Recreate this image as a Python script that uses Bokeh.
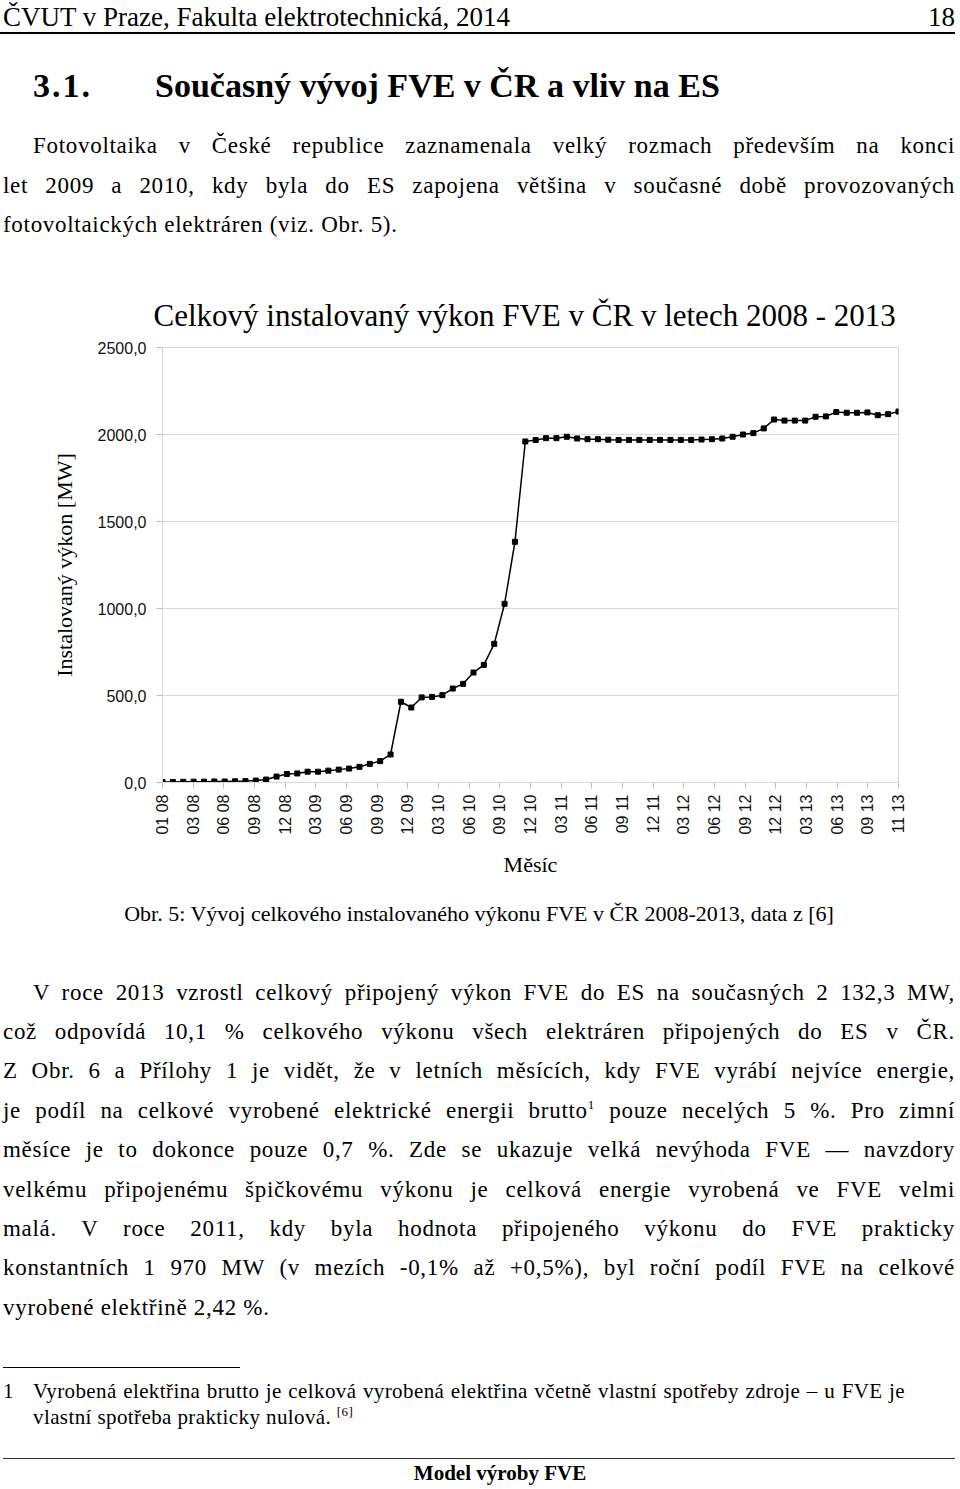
import math
from bokeh.plotting import figure
from bokeh.models import Range1d, FixedTicker, CustomJSTickFormatter, Div
from bokeh.layouts import column
from bokeh.embed import file_html
from bokeh.resources import INLINE

# ---------------- data ----------------
month_index = list(range(72))
installed_mw = [
    3, 3, 4, 5, 5, 6, 6, 7, 8, 11, 17, 34,
    49, 52, 62, 62, 68, 74, 80, 90, 107, 123, 161, 464,
    431, 489, 492, 502, 540, 567, 632, 676, 797, 1027, 1383, 1960,
    1968, 1979, 1979, 1987, 1977, 1973, 1973, 1970, 1968, 1969, 1969, 1969,
    1969, 1969, 1969, 1969, 1971, 1973, 1977, 1987, 2000, 2008, 2035, 2086,
    2080, 2080, 2080, 2102, 2104, 2129, 2125, 2125, 2127, 2111, 2117, 2132,
]
x_tick_labels = ["01 08", "03 08", "06 08", "09 08", "12 08", "03 09", "06 09", "09 09", "12 09",
                 "03 10", "06 10", "09 10", "12 10", "03 11", "06 11", "09 11", "12 11",
                 "03 12", "06 12", "09 12", "12 12", "03 13", "06 13", "09 13", "11 13"]
y_ticks = [0, 500, 1000, 1500, 2000, 2500]

chart_title = "Celkový instalovaný výkon FVE v ČR v letech 2008 - 2013"
y_label = "Instalovaný výkon [MW]"
x_label = "Měsíc"

# ---------------- page geometry ----------------
W = 960
TOP_H = 280
CHART_H = 610
BOT_H = 595
TOP_ORIGIN = 0
BOT_ORIGIN = TOP_H + CHART_H
SERIF = "Liberation Serif"


def line_html(text, left, cy, origin, width=None, size=23, weight="normal",
              align="left", lh=None, ls=0.0, family=SERIF):
    lh = lh or round(size * 1.2)
    top = max(cy - origin - lh / 2, 0)
    style = (f"position:absolute;left:{left}px;top:{top}px;font-family:'{family}';"
             f"font-size:{size}px;font-weight:{weight};line-height:{lh}px;"
             f"letter-spacing:{ls}px;color:#000;margin:0;padding:0;")
    if width:
        style += f"width:{width}px;"
    if align == "justify":
        style += "text-align:justify;text-align-last:justify;white-space:normal;"
    else:
        style += f"text-align:{align};white-space:nowrap;"
    return f'<div style="{style}">{text}</div>'


def rule_html(left, y, origin, width, thick=1, color="#000"):
    return (f'<div style="position:absolute;left:{left}px;top:{y - origin}px;width:{width}px;'
            f'height:{thick}px;background:{color};"></div>')


def wrap(inner, h):
    return f'<div style="position:relative;width:{W}px;height:{h}px;overflow:visible;">{inner}</div>'


BODY = 23
BLS = 0.7
L0, R0, IND = 3, 955, 33

top_parts = [
    line_html("ČVUT v Praze, Fakulta elektrotechnická, 2014", L0, 17, TOP_ORIGIN, size=27, lh=32),
    line_html("18", R0 - 60, 17, TOP_ORIGIN, width=60, size=27, lh=32, align="right"),
    rule_html(0, 32, TOP_ORIGIN, R0, thick=2),
    line_html("3.1.", IND, 85, TOP_ORIGIN, size=34, weight="bold", ls=2),
    line_html("Současný vývoj FVE v ČR a vliv na ES", 155, 85, TOP_ORIGIN, size=34, weight="bold"),
    line_html("Fotovoltaika v České republice zaznamenala velký rozmach především na konci",
              IND, 146, TOP_ORIGIN, width=R0 - IND, size=BODY, ls=BLS, align="justify"),
    line_html("let 2009 a 2010, kdy byla do ES zapojena většina v současné době provozovaných",
              L0, 186, TOP_ORIGIN, width=R0 - L0, size=BODY, ls=BLS, align="justify"),
    line_html("fotovoltaických elektráren (viz. Obr. 5).",
              L0, 225, TOP_ORIGIN, size=BODY, ls=BLS),
]
top_div = Div(text=wrap("".join(top_parts), TOP_H), width=W, height=TOP_H, margin=0)

# ---------------- chart ----------------
p = figure(width=W, height=CHART_H, x_range=Range1d(0, len(month_index) - 1),
           y_range=Range1d(y_ticks[0], y_ticks[-1]),
           output_backend="svg", toolbar_location=None,
           min_border_left=162, min_border_right=62, min_border_top=67, min_border_bottom=108)

p.title.text = chart_title
p.title.align = "left"
p.title.text_font = SERIF
p.title.text_font_style = "normal"
p.title.text_font_size = "31px"
p.title.text_color = "#000000"
p.title.standoff = 30
p.title.offset = -9

grid_gray = "#d9d9d9"
p.outline_line_color = grid_gray
p.xgrid.visible = False
p.ygrid.grid_line_color = grid_gray
p.background_fill_color = "white"
p.border_fill_color = "white"

n = len(month_index)
nl = len(x_tick_labels)
p.xaxis.ticker = FixedTicker(ticks=[k * (n - 1) / (nl - 1) for k in range(nl)])
p.xaxis.formatter = CustomJSTickFormatter(
    args=dict(labels=x_tick_labels, n=n, nl=nl),
    code="return labels[Math.round(tick * (nl - 1) / (n - 1))];")
p.xaxis.major_label_orientation = math.pi / 2
p.yaxis.ticker = FixedTicker(ticks=y_ticks)
p.yaxis.formatter = CustomJSTickFormatter(code="return tick.toFixed(1).replace('.', ',');")

for ax in (p.xaxis[0], p.yaxis[0]):
    ax.axis_line_color = grid_gray
    ax.major_tick_line_color = "#bdbdbd"
    ax.major_tick_out = 6
    ax.major_tick_in = 0
    ax.minor_tick_line_color = None
    ax.major_label_text_font = "Liberation Sans"
    ax.major_label_text_font_size = "16px"
    ax.major_label_text_color = "#111111"
    ax.axis_label_text_font = SERIF
    ax.axis_label_text_font_style = "normal"
    ax.axis_label_text_font_size = "22px"
    ax.axis_label_text_color = "#000000"

p.xaxis.axis_label = x_label
p.xaxis.major_label_standoff = 6
p.xaxis.axis_label_standoff = 14
p.yaxis.axis_label = y_label
p.yaxis.major_label_standoff = 10
p.yaxis.axis_label_standoff = 18

p.line(month_index, installed_mw, line_color="black", line_width=1.5)
p.scatter(month_index, installed_mw, marker="square", size=5, color="black")

# ---------------- bottom text ----------------
p2_lines = [
    "V roce 2013 vzrostl celkový připojený výkon FVE do ES na současných 2 132,3 MW,",
    "což odpovídá 10,1 % celkového výkonu všech elektráren připojených do ES v ČR.",
    "Z Obr. 6 a Přílohy 1 je vidět, že v letních měsících, kdy FVE vyrábí nejvíce energie,",
    "je podíl na celkové vyrobené elektrické energii brutto<sup style=\"font-size:13px;line-height:0;vertical-align:9px;\">1</sup> pouze necelých 5 %. Pro zimní",
    "měsíce je to dokonce pouze 0,7 %. Zde se ukazuje velká nevýhoda FVE — navzdory",
    "velkému připojenému špičkovému výkonu je celková energie vyrobená ve FVE velmi",
    "malá. V roce 2011, kdy byla hodnota připojeného výkonu do FVE prakticky",
    "konstantních 1 970 MW (v mezích -0,1% až +0,5%), byl roční podíl FVE na celkové",
    "vyrobené elektřině 2,42 %.",
]
p2_cy = [993, 1032, 1071, 1111, 1150, 1190, 1229, 1268, 1308]

bot_parts = [
    line_html("Obr. 5: Vývoj celkového instalovaného výkonu FVE v ČR 2008-2013, data z [6]",
              0, 914, BOT_ORIGIN, width=958, size=22, align="center"),
]
for i, (t, cy) in enumerate(zip(p2_lines, p2_cy)):
    if i == len(p2_lines) - 1:
        bot_parts.append(line_html(t, L0, cy, BOT_ORIGIN, size=BODY, ls=BLS))
        continue
    left = IND if i == 0 else L0
    bot_parts.append(line_html(t, left, cy, BOT_ORIGIN, width=R0 - left, size=BODY, ls=BLS,
                               align="justify"))

bot_parts += [
    rule_html(L0, 1367, BOT_ORIGIN, 237, thick=1),
    line_html("1", L0, 1391, BOT_ORIGIN, size=21),
    line_html("Vyrobená elektřina brutto je celková vyrobená elektřina včetně vlastní spotřeby zdroje – u FVE je",
              IND, 1391, BOT_ORIGIN, width=905 - IND, size=21, ls=0.4, align="justify"),
    line_html("vlastní spotřeba prakticky nulová. <sup style=\"font-size:13px;line-height:0;vertical-align:8px;\">[6]</sup>",
              IND, 1417, BOT_ORIGIN, size=21, ls=0.4),
    rule_html(L0, 1458, BOT_ORIGIN, R0 - L0, thick=1, color="#333"),
    line_html("Model výroby FVE", 400, 1473, BOT_ORIGIN, width=200, size=21, weight="bold",
              align="center", lh=18),
]
bot_div = Div(text=wrap("".join(bot_parts), BOT_H), width=W, height=BOT_H, margin=0)

layout = column(top_div, p, bot_div, spacing=0)

open("out.html", "w").write(file_html(layout, INLINE))
